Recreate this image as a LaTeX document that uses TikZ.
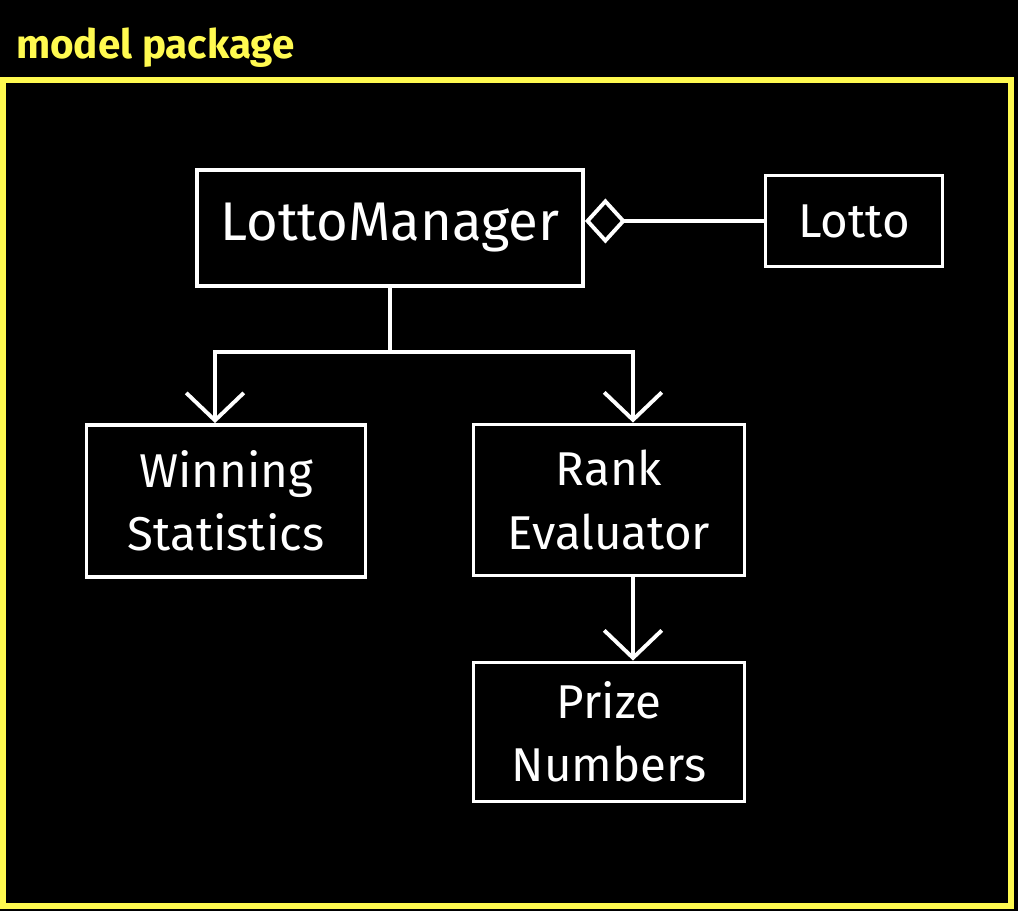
\documentclass[tikz,border=0pt]{standalone}
\usepackage{fontspec}
\setmainfont{Fira Sans}
\usetikzlibrary{arrows.meta,positioning,calc}
\definecolor{pkgyellow}{RGB}{255,250,80}

\begin{document}
\begin{tikzpicture}[x=0.02cm, y=-0.02cm,
  cls/.style={draw=white, line width=2.2pt, text=white, align=center,
    font=\fontsize{27}{36}\selectfont, inner sep=0pt},
  dep/.style={white, line width=2.2pt, -{Straight Barb[length=0.55cm, width=1.15cm, line width=2.2pt]}}]
\fill[black] (0,0) rectangle (1018,911);
\useasboundingbox (0,0) rectangle (1018,911);
\draw[pkgyellow, line width=3pt] (3,80) rectangle (1011,906);
\node[anchor=base west, text=pkgyellow, font=\bfseries\fontsize{23}{26}\selectfont] (title) at (10,59) {model package};

\node[cls, minimum width=7.72cm, minimum height=2.32cm, font=\fontsize{31}{36}\selectfont] (mgr) at (390,228) {LottoManager};
\node[cls, minimum width=3.54cm, minimum height=1.82cm] (lotto) at (854,221) {Lotto};
\node[cls, minimum width=5.58cm, minimum height=3.04cm] (win) at (226,501) {Winning\\Statistics};
\node[cls, minimum width=5.42cm, minimum height=3.02cm] (rank) at (609,500) {Rank\\Evaluator};
\node[cls, minimum width=5.42cm, minimum height=2.78cm] (prize) at (609,732) {Prize\\Numbers};

\draw[white, line width=2.2pt, -{Diamond[open, length=0.82cm, width=0.9cm, line width=2.2pt]}] (lotto.west) -- (lotto.west -| mgr.east);
\draw[white, line width=2.2pt] (mgr.south) -- ++(0,64) coordinate (split);
\draw[dep] (split) -| ([xshift=-0.22cm]win.north);
\draw[dep] (split) -| ([xshift=0.48cm]rank.north);
\draw[dep] ([xshift=0.48cm]rank.south) -- ([xshift=0.48cm]prize.north);
\end{tikzpicture}
\end{document}
